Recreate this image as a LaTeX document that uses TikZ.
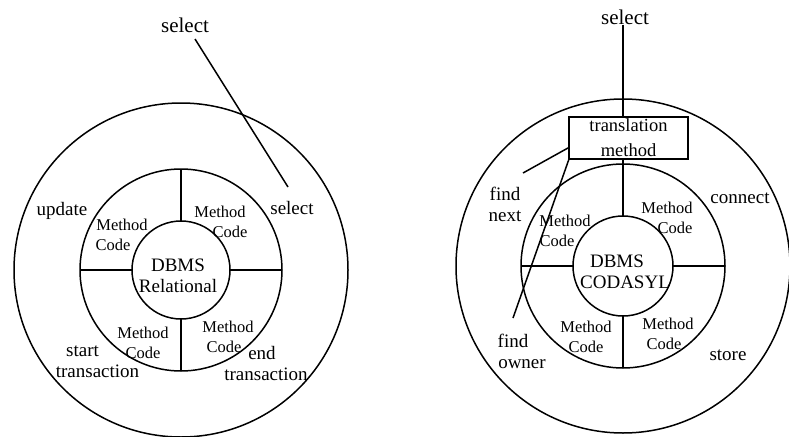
\documentclass[tikz,border=0pt]{standalone}
\usepackage{fontspec}
\setmainfont{Liberation Serif}
\usetikzlibrary{calc}
\tikzset{
  ring/.style={circle, draw, line width=1.5pt, inner sep=0pt, outer sep=0pt},
  lbl/.style={font=\fontsize{19}{21}\selectfont, inner sep=0pt, align=center},
  mc/.style={font=\fontsize{16.5}{20}\selectfont, inner sep=0pt, align=center},
  toplbl/.style={font=\fontsize{21}{23}\selectfont, inner sep=0pt},
  conn/.style={line width=1.5pt},
  tbox/.style={draw, line width=1.5pt, minimum width=119pt, minimum height=42pt, inner sep=0pt, outer sep=0pt, align=center, font=\fontsize{18.5}{23}\selectfont}
}
\begin{document}
\begin{tikzpicture}[x=1pt,y=-1pt]
\useasboundingbox (0,0) rectangle (789,436);
% ---------- left diagram ----------
\node[ring, minimum size=334pt] (Lout) at (181,270) {};
\node[ring, minimum size=202pt] (Lmid) at (181,270) {};
\node[ring, minimum size=98pt]  (Lin)  at (181,270) {};
\draw[conn] (Lin.north) -- (Lmid.north);
\draw[conn] (Lin.south) -- (Lmid.south);
\draw[conn] (Lin.east) -- (Lmid.east);
\draw[conn] (Lin.west) -- (Lmid.west);
\node[lbl] (Ldbms) at (178,276) {DBMS\\Relational};
\node[mc] (Lul) at (117.5,235) {\kern9pt Method\\Code\kern9pt};
\node[mc] (Lur) at (225,221.5) {Method\kern10pt\\\kern10pt Code};
\node[mc] (Lll) at (143,342.5) {Method\\Code};
\node[mc] (Llr) at (226,336.5) {\kern4pt Method\\Code\kern4pt};
\node[lbl] (Lupd) at (62,211) {update};
\node[lbl] (Lsel2) at (292,208) {select};
\node[lbl] (Lstart) at (90,362) {start\kern15pt\\\kern15pt transaction};
\node[lbl] (Lend) at (264,363) {end\kern4pt\\\kern4pt transaction};
\node[toplbl] (Lsel) at (185,25) {select};
\coordinate (Ls1) at (195,39);
\coordinate (Ls2) at (288,187);
\draw[conn] (Ls1) -- (Ls2);
% ---------- right diagram ----------
\node[ring, minimum size=334pt] (Rout) at (623,266) {};
\node[ring, minimum size=204pt] (Rmid) at (623,266) {};
\node[ring, minimum size=100pt] (Rin)  at (623,266) {};
\node[tbox] (Rbox) at (628.5,138) {\raisebox{1pt}{translation}\\[1pt]method};
\node[toplbl] (Rsel) at (625,17) {select};
\draw[conn] (Rsel.south -| Rin.north) -- (Rbox.north -| Rin.north);
\draw[conn] (Rbox.south -| Rin.north) -- (Rin.north);
\draw[conn] (Rin.south) -- (Rmid.south);
\draw[conn] (Rin.east) -- (Rmid.east);
\draw[conn] (Rin.west) -- (Rmid.west);
\node[lbl] (Rdbms) at (621,272) {DBMS\kern8pt\\\kern8pt CODASYL};
\node[mc] (Rul) at (561,230.5) {\kern8pt Method\\Code\kern8pt};
\node[mc] (Rur) at (671,218) {Method\kern8pt\\\kern8pt Code};
\node[mc] (Rll) at (586,337) {Method\\Code};
\node[mc] (Rlr) at (666,333.5) {\kern4pt Method\\Code\kern4pt};
\node[lbl] (Rnext) at (505,204) {find\\next};
\node[lbl] (Rowner) at (517.5,351) {find\kern9pt\\\kern9pt owner};
\node[lbl] (Rconn) at (740,198) {connect};
\node[lbl] (Rstore) at (728,355) {store};
\coordinate (Rn1) at (523,173);
\coordinate (Ro1) at (513,318);
\draw[conn] (Rn1) -- (Rbox.189.5);
\draw[conn] (Rbox.south west) -- (Ro1);
\end{tikzpicture}
\end{document}
